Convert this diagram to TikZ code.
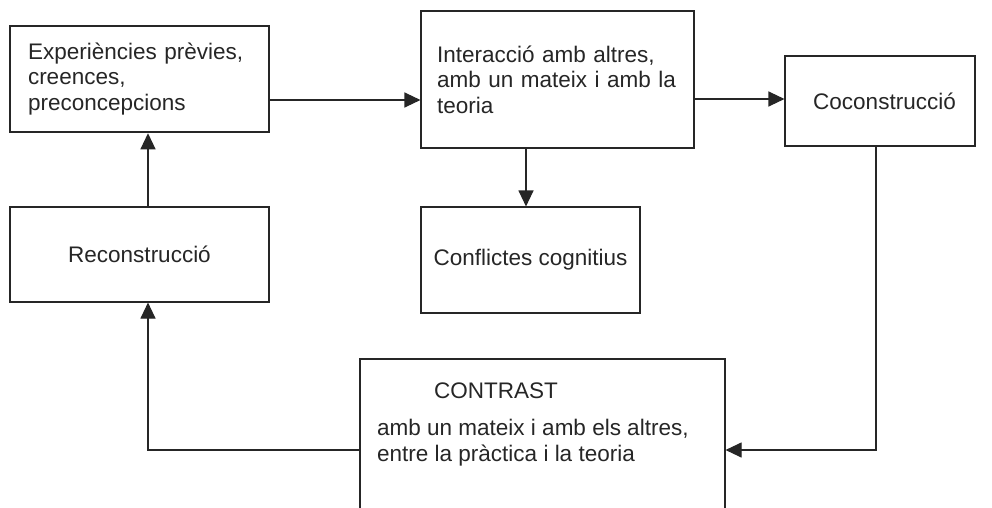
\documentclass[tikz,border=0pt]{standalone}
\usepackage{fontspec}
\setmainfont{Liberation Sans}
\usetikzlibrary{arrows.meta}
\begin{document}
\begin{tikzpicture}[x=1pt,y=-1pt,
  lbl/.style={font=\fontsize{22.5}{25.5}\selectfont, text=black!85},
  box/.style={draw=black!85, line width=1.1pt, rectangle, inner ysep=0pt, lbl},
  arr/.style={draw=black!85, line width=1.1pt, -{Triangle[length=16pt,width=15pt]}}]
\useasboundingbox (0,0) rectangle (992,508);
\clip (0,0) rectangle (992,508);
\fill[white] (0,0) rectangle (992,508);
\node[box, line width=2.5pt, minimum width=259pt, minimum height=106pt, inner xsep=18pt, text width=223pt, align=left]
  (prev) at (139.5,79) {Experiències prèvies,\\creences,\\preconcepcions};
\node[box, minimum width=273pt, minimum height=137pt, inner xsep=16pt, text width=241pt, align=left]
  (inter) at (557.5,79.5) {Interacció amb altres,\\amb un mateix i amb la\\teoria};
\node[box, minimum width=190pt, minimum height=90pt] (cocon) at (880,101) {\hspace{9pt}Coconstrucció};
\node[box, minimum width=259pt, minimum height=95pt] (recon) at (139.5,254.5) {Reconstrucció};
\node[box, minimum width=219pt, minimum height=106pt] (confl) at (530.5,260) {Conflictes cognitius};
\node[box, minimum width=365pt, minimum height=182pt] (contrast) at (542.5,450) {};
\node[lbl, inner sep=0pt] (ctitle) at (496,391) {CONTRAST};
\node[lbl, inner sep=0pt, anchor=west, align=left] (cbody) at (377,442.5)
  {amb un mateix i amb els altres,\\entre la pràctica i la teoria};
\draw[arr] (prev.east |- 0,100) -- (inter.west |- 0,100);
\draw[arr] (inter.east |- 0,99) -- (cocon.west |- 0,99);
\draw[arr] (inter.south -| 526,0) -- (confl.north -| 526,0);
\draw[arr] (recon.north -| 148,0) -- (prev.south -| 148,0);
\draw[arr] (cocon.south -| 876,0) |- (contrast.east);
\draw[arr] (contrast.west) -| (recon.south -| 148,0);
\end{tikzpicture}
\end{document}
